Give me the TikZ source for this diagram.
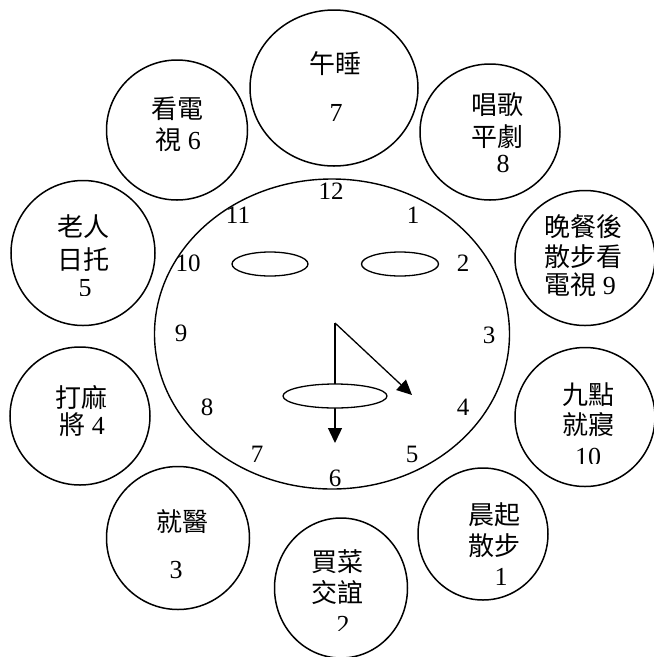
\documentclass[tikz,border=0pt]{standalone}
\usepackage{fontspec}
\setmainfont{Liberation Serif}
\newfontfamily\cjk{Noto Sans CJK TC}
\usetikzlibrary{shapes.geometric,arrows.meta}
\begin{document}
\begin{tikzpicture}[x=1pt,y=-1pt,
  bub/.style={draw,ellipse,line width=1.5pt,fill=white,inner sep=0pt},
  face/.style={draw,ellipse,line width=1.3pt,fill=white,inner sep=0pt},
  txt/.style={font=\fontsize{26}{31}\selectfont\cjk,inner sep=0pt},
  dig/.style={font=\fontsize{26}{31}\selectfont\rmfamily,inner sep=0pt},
  cnum/.style={font=\fontsize{25}{30}\selectfont\rmfamily,inner sep=0pt},
  hand/.style={line width=1.3pt,-{Triangle[length=15pt,width=14pt]}}]
\useasboundingbox (0,0) rectangle (654,657);

% activity circles
\node[bub,minimum width=168pt,minimum height=156pt] (c7) at (334,88) {};
\node[bub,minimum width=141pt,minimum height=140pt] (c6) at (177,130) {};
\node[bub,minimum width=140pt,minimum height=136pt] (c8) at (490,132) {};
\node[bub,minimum width=144pt,minimum height=145pt] (c5) at (83,253) {};
\node[bub,minimum width=140pt,minimum height=135pt] (c9) at (585,258) {};
\node[bub,minimum width=140pt,minimum height=138pt] (c4) at (80,416) {};
\node[bub,minimum width=140pt,minimum height=139pt] (c10) at (585,417) {};
\node[bub,minimum width=143pt,minimum height=143pt] (c3) at (178,538) {};
\node[bub,minimum width=133pt,minimum height=140pt] (c2) at (341,588) {};
\node[bub,minimum width=130pt,minimum height=132pt] (c1) at (483,534) {};

% clock face
\node[face,line width=1.4pt,minimum width=355pt,minimum height=310pt] (clock) at (332,334) {};
\node[face,minimum width=76pt,minimum height=24pt] (eyeL) at (270,264) {};
\node[face,minimum width=77pt,minimum height=24pt] (eyeR) at (400,264) {};

% hands
\coordinate (hub) at (335,323);
\coordinate (mintip) at (335,443);
\coordinate (hrtip) at (412,395);
\draw[hand] (hub) -- (mintip);
\draw[hand] (hub) -- (hrtip);
\node[face,minimum width=104pt,minimum height=24pt] (mouth) at (335,396) {};

% clock numbers
\node[cnum] (n12) at (331,191) {12};
\node[cnum] (n11) at (238,215) {11};
\node[cnum] (n1) at (413,215) {1};
\node[cnum] (n10) at (188,263) {10};
\node[cnum] (n2) at (463,263) {2};
\node[cnum] (n9) at (181,333) {9};
\node[cnum] (n3) at (489,335) {3};
\node[cnum] (n8) at (207,407) {8};
\node[cnum] (n4) at (463,407) {4};
\node[cnum] (n7) at (257,454) {7};
\node[cnum] (n5) at (412,454) {5};
\node[cnum] (n6) at (335,478) {6};

% circle texts
\node[txt] (t7a) at (335,64) {午睡};
\node[dig] (t7b) at (336,113) {7};

\node[txt] (t6a) at (177,109) {看電};
\node[txt] (t6b) at (178,140) {視\rmfamily\ 6};

\node[txt] (t8a) at (497,105) {唱歌};
\node[txt] (t8b) at (497,137) {平劇};
\node[dig] (t8c) at (503,164) {8};

\node[txt] (t5a) at (83,227) {老人};
\node[txt] (t5b) at (83,260) {日托};
\begin{scope}
\clip (40,270) rectangle (130,295);
\node[dig] (t5c) at (85,288) {5};
\end{scope}

\node[txt] (t9a) at (583,227) {晚餐後};
\node[txt] (t9b) at (583,257) {散步看};
\node[txt] (t9c) at (580,285) {電視\rmfamily\ 9};

\node[txt] (t4a) at (82,397) {打麻};
\node[txt] (t4b) at (82,425) {將\rmfamily\ 4};

\node[txt] (t10a) at (588,395) {九點};
\node[txt] (t10b) at (588,425) {就寢};
\begin{scope}
\clip (550,440) rectangle (630,463);
\node[dig] (t10c) at (588,457) {10};
\end{scope}

\node[txt] (t3a) at (182,522) {就醫};
\node[dig] (t3b) at (176,570) {3};

\node[txt] (t2a) at (337,562) {買菜};
\node[txt] (t2b) at (337,593) {交誼};
\begin{scope}
\clip (300,605) rectangle (380,630);
\node[dig] (t2c) at (343,625) {2};
\end{scope}

\node[txt] (t1a) at (494,515) {晨起};
\node[txt] (t1b) at (494,546) {散步};
\node[dig] (t1c) at (501,577) {1};
\end{tikzpicture}
\end{document}
